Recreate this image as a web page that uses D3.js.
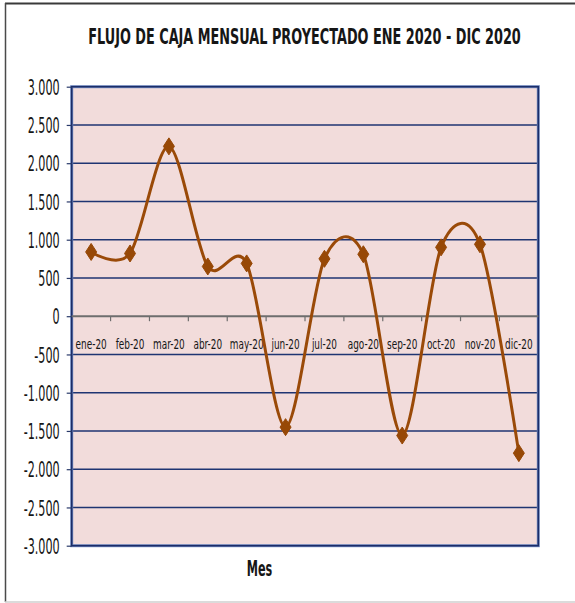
<!DOCTYPE html>
<html>
<head>
<meta charset="utf-8">
<script src="https://cdn.jsdelivr.net/npm/d3@7"></script>
<style>
  body { margin: 0; background: #ffffff; }
  text { font-family: "DejaVu Sans", Verdana, sans-serif; fill: #161616; }
</style>
</head>
<body>
<svg id="chart" width="575" height="603"></svg>
<script>
// Monthly projected cash flow, Jan–Dec 2020
const meses = ["ene-20", "feb-20", "mar-20", "abr-20", "may-20", "jun-20",
               "jul-20", "ago-20", "sep-20", "oct-20", "nov-20", "dic-20"];
const flujo = [840, 820, 2220, 650, 690, -1450, 750, 810, -1560, 900, 940, -1790];
const yTicks = [-3000, -2500, -2000, -1500, -1000, -500, 0, 500, 1000, 1500, 2000, 2500, 3000];
const titulo = "FLUJO DE CAJA MENSUAL PROYECTADO ENE 2020 - DIC 2020";
const ejeX = "Mes";

const svg = d3.select("#chart");
const W = 575, H = 603;
const plot = { left: 71.7, right: 538.3, top: 86.7, bottom: 545.7 };

const loc = d3.formatLocale({ decimal: ",", thousands: ".", grouping: [3], currency: ["$", ""], minus: "-" });
const fmt = loc.format(",d");

const x = d3.scaleBand().domain(meses).range([plot.left, plot.right]);
const y = d3.scaleLinear().domain([-3000, 3000]).range([plot.bottom, plot.top]);

// chart frame
svg.append("rect").attr("width", W).attr("height", H).attr("fill", "#ffffff");
svg.append("line").attr("x1", 5).attr("x2", W).attr("y1", 3.5).attr("y2", 3.5)
  .attr("stroke", "#3a3a3a").attr("stroke-width", 2);
svg.append("line").attr("x1", 5.5).attr("x2", 5.5).attr("y1", 3).attr("y2", 602)
  .attr("stroke", "#4a4a4a").attr("stroke-width", 1.5);
svg.append("line").attr("x1", 5).attr("x2", W).attr("y1", 602).attr("y2", 602)
  .attr("stroke", "#cfcfcf").attr("stroke-width", 1.5);

// title, condensed horizontally to its box width
const tg = svg.append("g");
const tt = tg.append("text")
  .attr("font-size", 22).attr("font-weight", "bold")
  .attr("text-anchor", "middle")
  .text(titulo);
const tScale = 433 / tt.node().getComputedTextLength();
tg.attr("transform", `translate(304.5,44) scale(${tScale},1)`);

// plot area
svg.append("rect")
  .attr("x", plot.left).attr("y", plot.top)
  .attr("width", plot.right - plot.left).attr("height", plot.bottom - plot.top)
  .attr("fill", "#f2dcdb");

// gridlines
svg.append("g").selectAll("line")
  .data(yTicks.filter(d => d !== 0 && d !== 3000 && d !== -3000))
  .join("line")
  .attr("x1", plot.left).attr("x2", plot.right)
  .attr("y1", d => y(d)).attr("y2", d => y(d))
  .attr("stroke", "#1f3572").attr("stroke-width", 1.4);

// plot border
svg.append("rect")
  .attr("x", plot.left).attr("y", plot.top)
  .attr("width", plot.right - plot.left).attr("height", plot.bottom - plot.top)
  .attr("fill", "none").attr("stroke", "#6f88bf").attr("stroke-width", 3);
svg.append("rect")
  .attr("x", plot.left).attr("y", plot.top)
  .attr("width", plot.right - plot.left).attr("height", plot.bottom - plot.top)
  .attr("fill", "none").attr("stroke", "#1b2d68").attr("stroke-width", 1.5);

// y axis
const sy = 0.52;
const gy = svg.append("g").attr("transform", `translate(${plot.left},0)`)
  .call(d3.axisLeft(y).tickValues(yTicks).tickSize(5).tickFormat(fmt));
gy.select(".domain").remove();
gy.selectAll(".tick line").attr("stroke", "#2a3a6a").attr("stroke-width", 1.2);
gy.selectAll(".tick text")
  .attr("font-size", 21.5)
  .attr("font-family", "'DejaVu Sans', sans-serif")
  .attr("fill", "#161616")
  .attr("text-anchor", "end")
  .attr("x", -12 / sy)
  .attr("dy", "0.36em")
  .attr("transform", `scale(${sy},1)`);

// zero axis with category ticks
const y0 = y(0);
svg.append("line").attr("x1", plot.left).attr("x2", plot.right)
  .attr("y1", y0).attr("y2", y0).attr("stroke", "#6e6e6e").attr("stroke-width", 2);
svg.append("g").selectAll("line")
  .data(meses.slice(1))
  .join("line")
  .attr("x1", d => x(d)).attr("x2", d => x(d))
  .attr("y1", y0).attr("y2", y0 + 5)
  .attr("stroke", "#6e6e6e").attr("stroke-width", 1.2);

// category labels
const sx = 0.65;
svg.append("g").selectAll("text")
  .data(meses)
  .join("text")
  .attr("transform", d => `translate(${x(d) + x.bandwidth() / 2},${y0 + 33}) scale(${sx},1)`)
  .attr("text-anchor", "middle")
  .attr("font-size", 13.7)
  .text(d => d);

// series line (smoothed)
const line = d3.line()
  .x((d, i) => x(meses[i]) + x.bandwidth() / 2)
  .y(d => y(d))
  .curve(d3.curveCardinal.tension(0.1));
svg.append("path")
  .datum(flujo)
  .attr("d", line)
  .attr("fill", "none")
  .attr("stroke", "#9a4a08")
  .attr("stroke-width", 3)
  .attr("stroke-linejoin", "round");

// diamond markers
svg.append("g").selectAll("path")
  .data(flujo)
  .join("path")
  .attr("transform", (d, i) => `translate(${x(meses[i]) + x.bandwidth() / 2},${y(d)})`)
  .attr("d", "M0,-8.5L5.5,0L0,8.5L-5.5,0Z")
  .attr("fill", "#974806")
  .attr("stroke", "#974806")
  .attr("stroke-width", 1);

// x axis title
svg.append("text")
  .attr("transform", `translate(259.5,576) scale(0.55,1)`)
  .attr("text-anchor", "middle")
  .attr("font-size", 20.5)
  .attr("font-weight", "bold")
  .text(ejeX);
</script>
</body>
</html>
